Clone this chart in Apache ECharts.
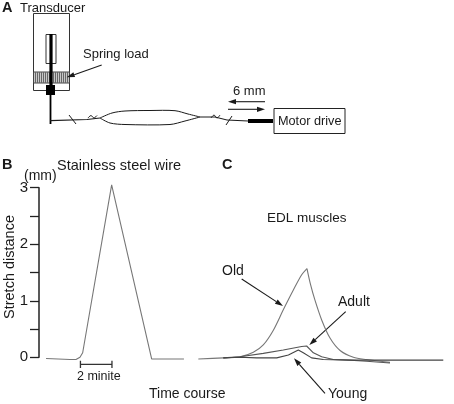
<!DOCTYPE html>
<html><head><meta charset="utf-8">
<style>html,body{margin:0;padding:0;background:#fff}#c{width:454px;height:404px}</style>
<script src="https://cdn.jsdelivr.net/npm/echarts@6/dist/echarts.min.js"></script>
</head><body><div id="c"></div>
<script>
const yTicks = [0, 1, 2, 3];
const wire = [[0.44,-0.02],[1.94,-0.04],[2.31,-0.04],[2.56,0],[2.73,0.08],[4.54,3.05],[4.64,3.05],[7.04,-0.03],[9.06,-0.03]];
const scaleBar = [[2.59,-0.06],[2.59,-0.19],null,[2.59,-0.125],[4.56,-0.125],null,[4.56,-0.06],[4.56,-0.19]];
const old = [[0.52,-0.03],[2.08,-0.01],[3.13,0.01],[3.96,0.09],[4.58,0.22],[5.21,0.48],[5.83,0.84],[6.46,1.19],[6.98,1.46],[7.31,1.57]];
const oldFall = [[7.31,1.57],[7.54,1.28],[7.81,1.01],[8.23,0.66],[8.75,0.34],[9.38,0.12],[10.21,0],[11.04,-0.04],[12.5,-0.09]];
const adult = [[2.08,-0.01],[3.13,0.01],[4.58,0.07],[5.83,0.13],[6.98,0.19],[7.29,0.2],[7.71,0.08],[8.23,0.01],[8.96,-0.04],[10,-0.05],[11.04,-0.07],[12.5,-0.1]];
const young = [[2.08,-0.01],[3.13,0],[4.17,-0.01],[5.42,-0.01],[6.15,0.04],[6.77,0.13],[7.08,0.08],[7.6,-0.01],[8.33,-0.04],[10,-0.05],[11.46,-0.05],[15.83,-0.05]];

const FONT = 'Liberation Sans';
const INK = '#1a1a1a';
function txt(s,x,y,size,opts){opts=opts||{};return {type:'text',x:x,y:y,rotation:opts.rot||0,style:{text:s,x:0,y:0,fill:INK,font:(opts.bold?'bold ':'')+size+'px "'+FONT+'"',textAlign:opts.align||'left',textVerticalAlign:'middle'}};}
function ln(x1,y1,x2,y2,w,c){return {type:'line',shape:{x1,y1,x2,y2},style:{stroke:c||INK,lineWidth:w||1}};}
function rect(x,y,w,h,fill,stroke,lw){return {type:'rect',shape:{x,y,width:w,height:h},style:{fill:fill||'none',stroke:stroke||null,lineWidth:lw||1}};}
function arrow(x1,y1,x2,y2,head){head=head||8;const a=Math.atan2(y2-y1,x2-x1),wd=2.6;
  const bx=x2-head*Math.cos(a),by=y2-head*Math.sin(a),nx=-Math.sin(a)*wd,ny=Math.cos(a)*wd;
  return [ln(x1,y1,bx,by,1.1),{type:'polygon',shape:{points:[[x2,y2],[bx+nx,by+ny],[bx-nx,by-ny]]},style:{fill:INK}}];}
function curve(p,w){return {type:'polyline',shape:{points:p,smooth:0.3},style:{stroke:INK,fill:'none',lineWidth:w||1}};}
function poly(p,w){return {type:'polyline',shape:{points:p},style:{stroke:INK,fill:'none',lineWidth:w||1}};}

const hatch=[];
for(let x=35;x<68;x+=2){ hatch.push(ln(x+.5,72,x+.5,83,1,'#666')); }
const schematic=[
  rect(33.5,13.5,36,77,'#fff','#333',1),
  rect(33.5,72,36,11,'#c8c8c8','#444',1),
  ...hatch,
  rect(46,34.5,10,29,'#fff','#333',1),
  ln(51,34,51,85,3.2,'#000'),
  rect(46,85,9,10,'#000'),
  ln(50.5,95,50.5,124,1.8,'#000'),
  poly([[50,120.7],[87,119.5],[100,118]],1.2),
  ln(69,115,76,124,1),
  curve([[100,118],[112,113],[125,111],[150,110.5],[175,110.7],[188,114],[200,117]],1),
  curve([[100,118],[110,123],[125,124.5],[170,124.5],[185,121],[200,117]],1),
  curve([[88,118],[91,115.5],[94,118],[97,115.5]],1),
  curve([[211,118],[214,115],[217,118],[220,115]],1),
  poly([[200,117],[215,117],[227,120],[248,121]],1),
  ln(226,125,232,116,1),
  rect(248,119,25,4,'#000'),
  rect(274,108.5,71,25,'#fff','#222',1),
  ...arrow(101.7,65,66.7,77.3),
  ...arrow(265,101.7,228,101.7),
  ...arrow(228,109.3,265,109.3)
];
const labels=[
  txt('A',2,8,14.5,{bold:true}), txt('Transducer',20,8,13),
  txt('Spring load',83,54,13), txt('6 mm',233,91,13), txt('Motor drive',278,121,12.7),
  txt('B',2,165,14.5,{bold:true}), txt('Stainless steel wire',57,166,14.5),
  txt('(mm)',24,176,14), txt('C',222,165,14.5,{bold:true}),
  txt('EDL muscles',267,218,13.5),
  txt('Stretch distance',10,267,14.5,{rot:Math.PI/2,align:'center'}),
  txt('2 minite',77,377,12.5), txt('Time course',149,394,14),
  txt('Old',222,271,14), txt('Adult',338,302,14), txt('Young',328,394,14),
  ...arrow(241.7,279,283,306), ...arrow(345.7,311.7,309.3,345), ...arrow(325,393.3,294,358.3)
];
const gray={color:'#777',width:1.1};
const lineBase={type:'line',showSymbol:false,symbol:'none',smooth:false,clip:false,animation:false};
const chart=echarts.init(document.getElementById('c'),null,{renderer:'canvas'});
chart.setOption({
  animation:false,
  backgroundColor:'#fff',
  grid:[
    {left:39,top:187.7,width:160,height:169.6},
    {left:190,top:187.7,width:264,height:169.6}
  ],
  xAxis:[
    {gridIndex:0,type:'value',min:0,max:10,show:false},
    {gridIndex:1,type:'value',min:0,max:16.5,show:false}
  ],
  yAxis:[
    {gridIndex:0,type:'value',min:0,max:3,interval:0.5,splitLine:{show:false},
     axisLine:{show:true,lineStyle:{color:'#222',width:1.5}},
     axisTick:{show:true,length:9,lineStyle:{color:'#222',width:1.3}},
     axisLabel:{margin:11,color:INK,fontFamily:FONT,fontSize:15,
       formatter:v=>yTicks.includes(v)?String(v):''}},
    {gridIndex:1,type:'value',min:0,max:3,show:false}
  ],
  series:[
    {...lineBase,name:'Stainless steel wire',xAxisIndex:0,yAxisIndex:0,data:wire,lineStyle:gray},
    {...lineBase,name:'2 minite',xAxisIndex:0,yAxisIndex:0,data:scaleBar,connectNulls:false,lineStyle:{color:'#333',width:1.3}},
    {...lineBase,name:'Old',xAxisIndex:1,yAxisIndex:1,data:old,smooth:0.3,lineStyle:gray},
    {...lineBase,name:'Old',xAxisIndex:1,yAxisIndex:1,data:oldFall,smooth:0.3,lineStyle:gray},
    {...lineBase,name:'Adult',xAxisIndex:1,yAxisIndex:1,data:adult,lineStyle:{color:'#555',width:1.1}},
    {...lineBase,name:'Young',xAxisIndex:1,yAxisIndex:1,data:young,lineStyle:{color:'#444',width:1.1}}
  ],
  graphic:{elements:[...schematic,...labels]}
});
</script></body></html>
